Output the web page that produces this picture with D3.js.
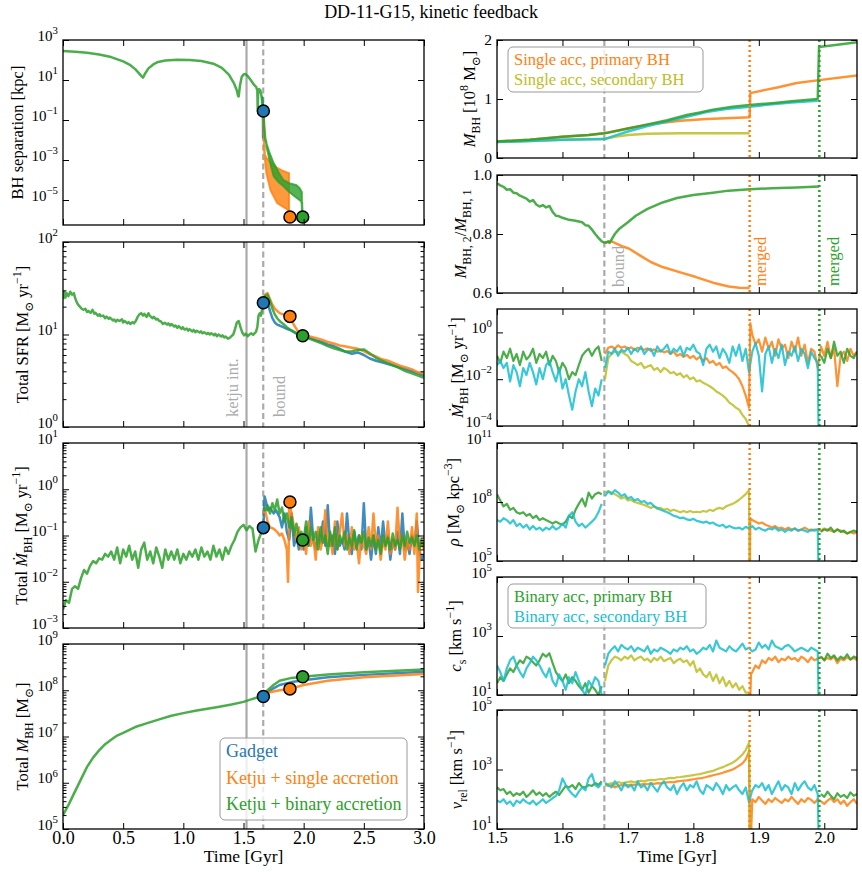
<!DOCTYPE html>
<html>
<head>
<meta charset="utf-8">
<script src="https://cdn.jsdelivr.net/npm/d3@7"></script>
<style>
  body { margin: 0; background: #fff; }
</style>
</head>
<body>
<svg id="fig" width="862" height="872"></svg>
<script>
// ---------- data ----------
const tKetju = 1.525, tBound = 1.664, tMergeSingle = 1.886, tMergeBinary = 1.9925;
const seq = (t0, dt, vals) => vals.map((v, i) => [+(t0 + i * dt).toFixed(4), v]);

// left column, panel 1: BH separation [kpc]
const sepPre = [[0,280],[0.1,260],[0.2,230],[0.3,190],[0.4,140],[0.5,85],[0.56,55],[0.6,35],[0.63,22],[0.65,16],[0.665,13],
  [0.68,20],[0.71,38],[0.75,60],[0.79,80],[0.85,95],[0.95,102],[1.05,100],[1.15,90],[1.25,65],[1.32,40],[1.38,18],[1.42,7],
  [1.445,3],[1.455,1.6],[1.46,1.5],[1.47,5],[1.485,14],[1.5,19],[1.515,20],[1.53,17],[1.56,10],[1.59,5.5],[1.605,4.5],
  [1.615,3],[1.618,0.3],[1.621,2],[1.63,3.5],[1.64,3],[1.65,1.5],[1.66,0.6],[1.665,0.28]];
const sepGadget = [[1.655,1.5],[1.66,0.5],[1.662,0.1],[1.663,0.012]];
const sepSingleLine = [[1.665,0.28],[1.67,0.02],[1.675,0.002]];
const sepSingleBand = [[1.675,0.002,0.0015],[1.69,1.3e-3,2.2e-4],[1.725,8e-4,3e-5],[1.78,4e-4,7e-6],[1.83,2.8e-4,4.5e-6],[1.878,2.2e-4,3e-6]];
const sepSingleEnd = [[1.878,3e-6],[1.883,1.4e-6]];
const sepBinaryLine = [[1.665,0.28],[1.672,0.05],[1.68,0.012],[1.69,0.007]];
const sepBinaryBand = [[1.69,0.007,0.005],[1.72,0.002,8e-4],[1.75,7e-4,1.6e-4],[1.79,2.5e-4,8e-5],[1.83,1e-4,5e-5],
  [1.88,7e-5,2.5e-5],[1.94,5.5e-5,1.3e-5],[1.965,4e-5,1e-5],[1.985,2.5e-5,8e-6]];
const sepBinaryEnd = [[1.985,8e-6],[1.99,1.4e-6]];

// panel 2: total SFR
const sfrPre = [[0,24],[0.01,29],[0.02,25],[0.03,28],[0.045,26],[0.06,29],[0.075,27],[0.09,28],[0.1,25],[0.11,23],[0.125,21],
  [0.14,20],[0.155,19],[0.17,18.5],[0.185,19],[0.2,17.5],[0.21,18],[0.23,17.2],[0.245,18.5],[0.26,16.8],[0.268,17.2],[0.29,16],
  [0.305,16.5],[0.312,15.8],[0.335,16],[0.35,15],[0.362,15.6],[0.38,14.8],[0.39,15.2],[0.415,14.2],[0.425,14.5],[0.44,13.8],
  [0.452,14.4],[0.47,14],[0.49,14.6],[0.5,13.5],[0.512,14],[0.535,13.2],[0.545,13.6],[0.56,13],[0.578,13.6],[0.59,13.2],
  [0.605,14],[0.62,15.5],[0.635,16.5],[0.65,17],[0.665,16],[0.675,16.7],[0.695,15.5],[0.71,17],[0.72,16],[0.745,15],
  [0.755,15.5],[0.775,14.5],[0.785,14.8],[0.8,14],[0.812,13.9],[0.83,13],[0.845,13.4],[0.865,12.8],[0.875,13.2],[0.89,12.5],
  [0.9,13],[0.925,12.2],[0.935,12.5],[0.95,11.8],[0.962,12.3],[0.985,11.5],[0.995,12],[1.01,11.3],[1.028,11.6],[1.04,11],
  [1.052,11.4],[1.075,10.8],[1.085,11.2],[1.1,10.6],[1.112,11],[1.135,10.5],[1.145,10.8],[1.16,10.3],[1.172,10.6],[1.195,10.1],
  [1.205,10.4],[1.22,10],[1.232,10.3],[1.255,9.8],[1.265,10.2],[1.28,9.6],[1.292,10],[1.315,9.5],[1.325,9.8],[1.34,9.3],
  [1.352,9.5],[1.37,9.0],[1.385,9.2],[1.4,9.6],[1.415,10],[1.43,11.5],[1.445,13.5],[1.46,14],[1.475,12],[1.49,10.5],
  [1.505,9.8],[1.52,10.2],[1.535,9.6],[1.55,10],[1.565,10.3],[1.58,9.9],[1.595,10.4],[1.605,10.8],[1.615,12],[1.625,16],
  [1.635,17],[1.645,16],[1.655,19],[1.665,22]];
const sfrGadget = [[1.665,22],[1.68,25],[1.69,24],[1.7,22],[1.72,18],[1.74,15],[1.76,13.5],[1.78,12.8],[1.8,12.5],[1.83,12],
  [1.86,11.5],[1.9,11],[1.95,10],[2.0,9.5],[2.05,9.2],[2.1,8.7],[2.15,8.3],[2.2,7.8],[2.25,7.5],[2.3,7.0],[2.35,6.5],[2.4,6.2],
  [2.45,6.4],[2.5,6.0],[2.55,5.5],[2.6,5.2],[2.65,5.0],[2.7,4.8],[2.75,4.6],[2.8,4.4],[2.85,4.2],[2.9,4.0],[2.95,3.8],[3.0,3.6]];
const sfrSingle = [[1.665,22],[1.68,27],[1.7,28],[1.72,24],[1.74,21],[1.76,19],[1.78,18],[1.8,17],[1.83,16.5],[1.86,16],
  [1.886,15.7],[1.9,14],[1.93,12],[1.96,10.5],[2.0,9.8],[2.05,9.5],[2.1,9.2],[2.15,8.8],[2.2,8.3],[2.25,8.0],[2.3,7.6],
  [2.35,7.4],[2.4,7.2],[2.45,7.0],[2.5,6.6],[2.55,6.1],[2.6,5.8],[2.65,5.4],[2.7,5.2],[2.75,4.9],[2.8,4.6],[2.85,4.4],
  [2.9,4.2],[2.95,3.9],[3.0,3.8]];
const sfrBinary = [[1.665,22],[1.68,26],[1.7,27],[1.72,23],[1.74,19],[1.76,16.5],[1.78,15],[1.8,14],[1.83,13],[1.86,12],
  [1.9,11],[1.95,10.2],[1.992,9.7],[2.05,9.0],[2.1,8.5],[2.15,8.0],[2.2,7.5],[2.25,7.1],[2.3,6.8],[2.35,6.5],[2.4,6.6],
  [2.45,6.8],[2.5,6.9],[2.53,6.5],[2.57,6.0],[2.6,5.6],[2.65,5.2],[2.7,4.9],[2.75,4.6],[2.8,4.3],[2.85,4.0],[2.9,3.8],
  [2.95,3.6],[3.0,3.4]];

// panel 3: total BH accretion rate
const mdotTotPre = seq(0, 0.025, [0.0025,0.004,0.0035,0.007,0.008,0.007,0.012,0.018,0.015,0.022,
  0.028,0.025,0.032,0.03,0.04,0.035,0.045,0.03,0.055,0.025,
  0.05,0.035,0.06,0.03,0.045,0.02,0.05,0.07,0.03,0.045,
  0.025,0.055,0.035,0.02,0.05,0.03,0.045,0.03,0.05,0.025,
  0.04,0.03,0.045,0.035,0.05,0.03,0.055,0.035,0.045,0.03,
  0.06,0.035,0.05,0.03,0.055,0.04,0.06,0.08,0.12,0.15,
  0.17,0.13,0.16,0.14,0.045,0.08,0.12]).concat([[1.665,0.145]]);
const mdotTotGadget = [[1.665,0.145],[1.675,0.7],[1.69,0.5],[1.7,0.35],[1.72,0.4],[1.75,0.3],[1.77,0.35],[1.8,0.25],[1.82,0.15],
  [1.84,0.3],[1.86,0.12],[1.88,0.08],[1.9,0.3],[1.92,0.06],[1.94,0.1],[1.96,0.05],[1.98,0.08],[2.0,0.05],[2.02,0.15],[2.04,0.06],
  [2.06,0.4],[2.08,0.08],[2.1,0.05],[2.12,0.12],[2.14,0.07],[2.16,0.2],[2.18,0.06],[2.2,0.45],[2.22,0.06],[2.24,0.1],[2.26,0.04],
  [2.28,0.2],[2.3,0.06],[2.32,0.08],[2.34,0.05],[2.36,0.3],[2.38,0.07],[2.4,0.04],[2.42,0.12],[2.44,0.06],[2.46,0.1],[2.48,0.05],
  [2.5,0.5],[2.52,0.05],[2.54,0.08],[2.56,0.03],[2.58,0.1],[2.6,0.04],[2.62,0.15],[2.64,0.05],[2.66,0.2],[2.68,0.06],[2.7,0.1],
  [2.72,0.03],[2.74,0.08],[2.76,0.05],[2.78,0.12],[2.8,0.04],[2.82,0.3],[2.84,0.05],[2.86,0.07],[2.88,0.04],[2.9,0.1],[2.92,0.06],
  [2.94,0.2],[2.96,0.05],[2.98,0.03],[3.0,0.04]];
const mdotTotSingle = [[1.665,0.3],[1.68,0.35],[1.7,0.2],[1.72,0.15],[1.75,0.14],[1.78,0.12],[1.8,0.1],[1.82,0.11],[1.84,0.08],
  [1.86,0.05],[1.87,0.01],[1.875,0.04],[1.88,0.5],[1.9,0.3],[1.92,0.15],[1.94,0.08],[1.96,0.15],[1.98,0.05],[2.0,0.1],[2.02,0.04],
  [2.04,0.2],[2.06,0.06],[2.08,0.1],[2.1,0.03],[2.12,0.15],[2.14,0.05],[2.16,0.08],[2.18,0.35],[2.2,0.06],[2.22,0.1],[2.24,0.04],
  [2.26,0.2],[2.28,0.05],[2.3,0.12],[2.32,0.3],[2.34,0.06],[2.36,0.1],[2.38,0.04],[2.4,0.15],[2.42,0.05],[2.44,0.08],[2.46,0.025],
  [2.48,0.1],[2.5,0.06],[2.52,0.04],[2.54,0.15],[2.56,0.05],[2.58,0.3],[2.6,0.06],[2.62,0.1],[2.64,0.03],[2.66,0.08],[2.68,0.05],
  [2.7,0.2],[2.72,0.04],[2.74,0.08],[2.76,0.05],[2.78,0.4],[2.8,0.06],[2.82,0.1],[2.84,0.03],[2.86,0.08],[2.88,0.05],[2.9,0.15],
  [2.92,0.04],[2.94,0.3],[2.95,0.006],[2.97,0.08],[3.0,0.05]];
const mdotTotBinary = [[1.665,0.4],[1.68,0.35],[1.7,0.45],[1.72,0.3],[1.74,0.5],[1.76,0.35],[1.78,0.6],[1.8,0.3],[1.82,0.4],
  [1.84,0.2],[1.86,0.3],[1.88,0.15],[1.9,0.25],[1.92,0.1],[1.94,0.18],[1.96,0.09],[1.98,0.12],[2.0,0.08],[2.02,0.2],[2.04,0.06],
  [2.06,0.15],[2.08,0.08],[2.1,0.12],[2.12,0.05],[2.14,0.15],[2.16,0.07],[2.18,0.1],[2.2,0.04],[2.22,0.12],[2.24,0.06],[2.26,0.15],
  [2.28,0.05],[2.3,0.1],[2.32,0.07],[2.34,0.12],[2.36,0.05],[2.38,0.09],[2.4,0.06],[2.42,0.13],[2.44,0.05],[2.46,0.1],[2.48,0.07],
  [2.5,0.12],[2.52,0.05],[2.54,0.09],[2.56,0.06],[2.58,0.1],[2.6,0.05],[2.62,0.08],[2.64,0.04],[2.66,0.1],[2.68,0.06],[2.7,0.09],
  [2.72,0.05],[2.74,0.11],[2.76,0.06],[2.78,0.08],[2.8,0.05],[2.82,0.1],[2.84,0.06],[2.86,0.12],[2.88,0.07],[2.9,0.09],[2.92,0.06],
  [2.94,0.1],[2.96,0.05],[2.98,0.08],[3.0,0.06]];

// panel 4: total BH mass
const mbhTotPre = [[0,2e5],[0.05,3.5e5],[0.1,6.5e5],[0.15,1.2e6],[0.2,2.2e6],[0.25,3.5e6],[0.3,5e6],[0.35,6.8e6],[0.4,8.5e6],
  [0.45,1.05e7],[0.5,1.2e7],[0.6,1.6e7],[0.7,1.95e7],[0.8,2.35e7],[0.9,2.8e7],[1.0,3.2e7],[1.1,3.6e7],[1.2,4.0e7],[1.3,4.4e7],
  [1.4,4.9e7],[1.5,5.6e7],[1.55,6.2e7],[1.6,6.8e7],[1.665,7.3e7]];
const mbhTotGadget = [[1.665,7.3e7],[1.7,9e7],[1.75,1.1e8],[1.8,1.3e8],[1.9,1.5e8],[2.0,1.65e8],[2.2,1.9e8],[2.5,2.15e8],[3.0,2.5e8]];
const mbhTotSingle = [[1.665,7.3e7],[1.7,8.8e7],[1.8,1.0e8],[1.886,1.07e8],[2.0,1.3e8],[2.2,1.6e8],[2.5,1.9e8],[3.0,2.25e8]];
const mbhTotBinary = [[1.665,7.3e7],[1.7,1.0e8],[1.75,1.3e8],[1.8,1.6e8],[1.9,1.85e8],[1.992,1.95e8],[2.2,2.2e8],[2.5,2.45e8],[3.0,2.8e8]];

// markers per run
const markGadget = { t: 1.665, sep: 0.28, sfr: 22, mdot: 0.148, mbh: 7.3e7 };
const markSingle = { t: 1.886, sep: 1.4e-6, sfr: 15.7, mdot: 0.53, mbh: 1.07e8 };
const markBinary = { t: 1.992, sep: 1.4e-6, sfr: 9.7, mdot: 0.08, mbh: 1.95e8 };

// right column, panel 1: individual BH masses [1e8 Msun]
const mPriBin = [[1.5,0.28],[1.55,0.31],[1.6,0.36],[1.64,0.39],[1.664,0.42],[1.67,0.43],[1.7,0.5],[1.73,0.57],[1.76,0.64],
  [1.79,0.73],[1.81,0.77],[1.83,0.82],[1.86,0.87],[1.886,0.9],[1.92,0.93],[1.95,0.96],[1.99,1.0],[1.992,1.88],[2.02,1.92],[2.05,1.96]];
const mPriSingle = [[1.5,0.28],[1.55,0.31],[1.6,0.36],[1.64,0.39],[1.664,0.42],[1.7,0.5],[1.74,0.58],[1.78,0.63],[1.82,0.66],
  [1.86,0.68],[1.886,0.69],[1.887,1.1],[1.908,1.15],[1.93,1.2],[1.958,1.27],[1.992,1.32],[2.05,1.4]];
const mSecSingle = [[1.5,0.27],[1.55,0.29],[1.6,0.31],[1.664,0.32],[1.68,0.36],[1.7,0.39],[1.73,0.41],[1.78,0.42],[1.886,0.42]];
const mSecBin = [[1.5,0.27],[1.55,0.29],[1.6,0.31],[1.664,0.32],[1.68,0.38],[1.7,0.45],[1.73,0.54],[1.76,0.62],[1.79,0.7],
  [1.82,0.78],[1.85,0.83],[1.886,0.87],[1.92,0.91],[1.95,0.94],[1.99,0.97]];

// panel 2: mass ratio
const qPre = [[1.5,0.972],[1.505,0.965],[1.51,0.96],[1.515,0.95],[1.52,0.952],[1.525,0.94],[1.53,0.938],[1.535,0.93],[1.54,0.925],
  [1.545,0.92],[1.55,0.91],[1.555,0.915],[1.56,0.9],[1.565,0.893],[1.57,0.898],[1.575,0.89],[1.58,0.895],[1.585,0.875],[1.59,0.862],
  [1.595,0.86],[1.6,0.855],[1.61,0.848],[1.62,0.845],[1.63,0.84],[1.635,0.83],[1.64,0.828],[1.645,0.815],[1.65,0.8],[1.655,0.787],
  [1.66,0.775],[1.665,0.77]];
const qBinary = [[1.665,0.77],[1.67,0.775],[1.672,0.77],[1.68,0.8],[1.687,0.818],[1.7,0.84],[1.712,0.862],[1.73,0.885],[1.753,0.907],
  [1.775,0.922],[1.8,0.932],[1.83,0.94],[1.854,0.947],[1.886,0.952],[1.92,0.955],[1.958,0.958],[1.992,0.961]];
const qSingle = [[1.665,0.77],[1.675,0.775],[1.69,0.76],[1.702,0.75],[1.72,0.725],[1.735,0.705],[1.753,0.688],[1.78,0.67],
  [1.804,0.654],[1.83,0.635],[1.854,0.622],[1.87,0.618],[1.886,0.617]];

// panel 3: accretion rates per BH
const mdPriPre = seq(1.5, 0.005, [0.1,0.05,0.15,0.08,0.2,0.06,0.12,0.04,0.15,0.07,0.1,0.2,0.05,0.12,0.08,0.15,0.04,0.1,0.06,0.02,
  0.05,0.03,0.01,0.02,0.015,0.04,0.1,0.15,0.2,0.1,0.18,0.25,0.06]);
const mdSecPre = seq(1.5, 0.005, [0.04,0.06,0.03,0.05,0.008,0.04,0.02,0.005,0.03,0.015,0.05,0.02,0.006,0.03,0.01,0.04,0.06,0.02,
  0.008,0.03,0.004,0.01,0.002,0.0005,0.003,0.01,0.005,0.02,0.003,0.0007,0.004,0.002,0.01]);
const mdSecBin = seq(1.665, 0.005, [0.03,0.15,0.12,0.2,0.1,0.18,0.15,0.22,0.12,0.2,0.15,0.25,0.12,0.18,0.2,0.1,0.25,0.15,0.2,0.3,
  0.12,0.2,0.15,0.25,0.1,0.22,0.18,0.3,0.15,0.12,0.04,0.2,0.3,0.15,0.25,0.08,0.2,0.12,0.05,0.25,
  0.1,0.3,0.06,0.2,0.02,0.15,0.35,0.1,0.003,0.12,0.25,0.05,0.2,0.08,0.3,0.04,0.15,0.1,0.25,0.06,
  0.2,0.12,0.03,0.15,0.08,0.05]).concat([[1.992,1e-6]]);
const mdPriSingle = seq(1.665, 0.005, [0.12,0.22,0.25,0.2,0.28,0.22,0.25,0.2,0.23,0.18,0.22,0.2,0.18,0.21,0.16,0.19,0.15,0.17,0.14,
  0.16,0.12,0.15,0.1,0.12,0.09,0.11,0.08,0.1,0.07,0.09,0.06,0.08,0.05,0.06,0.04,0.05,0.03,0.035,0.025,0.02,0.015,0.01,0.005,
  0.002,0.0006]).concat([[1.887,2.5]], seq(1.89, 0.005, [0.8,0.3,0.5,0.15,0.6,0.2,0.4,0.1,0.5,0.2,0.3,0.08,0.4,0.15,0.6,0.1,
  0.3,0.05,0.2,0.15,0.03,0.25,0.1,0.4,0.08,0.2,0.005,0.1,0.15,0.06,0.2,0.1,0.15]));
const mdSecSingle = seq(1.665, 0.005, [0.01,0.08,0.12,0.15,0.14,0.15,0.12,0.1,0.06,0.05,0.04,0.05,0.03,0.035,0.04,0.025,0.03,0.02,
  0.03,0.025,0.018,0.02,0.015,0.018,0.012,0.015,0.01,0.012,0.008,0.009,0.007,0.006,0.005,0.004,0.003,0.0025,0.002,0.0015,0.001,
  0.0008,0.0006,0.0005,0.0003,0.0002,0.0001]);
const mdPriBinPost = seq(1.995, 0.005, [0.1,0.05,0.2,0.08,0.4,0.1,0.15,0.05,0.2,0.1,0.08,0.15]);

// panel 4: gas density around BHs
const rhoPriPre = seq(1.5, 0.005, [2.5e8,1.2e8,6e7,8e7,4e7,5e7,3e7,2.5e7,3e7,2e7,2.5e7,1.5e7,2e7,1.2e7,1.5e7,1.2e7,1e7,8e6,1e7,
  8e6,7e6,1e7,2e7,1.5e7,4e7,8e7,1.5e8,6e7,3e8,1.5e8,2.5e8,3e8,2.5e8]);
const rhoSecPre = seq(1.5, 0.005, [1.2e7,1e7,1.5e7,1.2e7,8e6,1.2e7,6e6,8e6,5e6,7e6,4e6,6e6,4e6,5e6,3.5e6,5e6,4e6,6e6,4e6,5e6,
  8e6,5e6,2e7,3e7,1e7,6e6,8e6,5e6,7e6,1e7,1.5e7,3e7,8e7]);
const rhoSecBin = seq(1.665, 0.005, [2e8,3.5e8,2.5e8,4e8,3e8,2e8,2.5e8,1.5e8,1.8e8,1.2e8,1.4e8,1e8,1.1e8,8e7,9e7,6e7,5e7,4e7,3.5e7,
  3e7,2.5e7,2e7,1.8e7,1.5e7,1.6e7,1.3e7,1.2e7,1.4e7,1.1e7,1e7,9e6,1e7,8e6,9e6,7e6,6e6,7e6,5e6,6e6,5e6,4.5e6,5e6,4e6,5.5e6,
  4.5e6,6e6,4e6,5e6,4e6,3.5e6,4.5e6,4e6,5e6,3.5e6,4e6,3e6,4e6,3.5e6,4.5e6,3.5e6,4e6,3.5e6,3e6,4e6,3.5e6,4e6]).concat([[1.992,1e3]]);
const rhoSecSingle = seq(1.665, 0.005, [3e8,3.5e8,3e8,2.5e8,2e8,1.5e8,1.8e8,1.2e8,1.3e8,1e8,9e7,8e7,7e7,6e7,5e7,6e7,4.5e7,5e7,
  4e7,4.5e7,3.5e7,4e7,3.5e7,3e7,3.5e7,3e7,3.5e7,3e7,3.2e7,3e7,3.5e7,3.2e7,4e7,3.5e7,4.5e7,5e7,4.5e7,6e7,7e7,8e7,1e8,1.3e8,
  1.8e8,2.5e8,4e8]).concat([[1.886,1e3]]);
const rhoPriSingle = [[1.886,1e3],[1.887,1.5e7]].concat(seq(1.89, 0.005, [1.2e7,1e7,8e6,9e6,7e6,6e6,5e6,6e6,4.5e6,5e6,4e6,
  5e6,4e6,4.5e6,3.5e6,4e6,5e6,4e6,3.5e6,4e6,4e6,3.5e6,4.5e6,4e6,3.5e6,3e6,4e6,3.5e6,3e6,2.5e6,3e6,2.5e6,3e6]));
const rhoPriBinPost = seq(1.995, 0.005, [3e6,4e6,3.5e6,5e6,3e6,4e6,3e6,3.5e6,2.5e6,3e6,3.5e6,3e6]);

// panel 5: sound speed
const csPriPre = seq(1.5, 0.005, [25,40,30,50,80,60,100,150,120,200,170,130,100,150,250,200,260,120,60,40,30,50,25,40,30,20,
  15,25,12,20,15,10,20]);
const csSecPre = seq(1.5, 0.005, [100,60,30,80,150,200,100,60,40,80,120,200,150,100,60,40,80,30,20,50,30,15,40,25,60,30,15,
  10,30,20,40,30,10]);
const csSecBin = seq(1.665, 0.005, [100,250,350,450,300,500,400,350,450,300,400,350,300,450,250,350,300,400,350,300,250,350,
  300,400,350,450,300,350,250,300,400,350,500,300,700,400,350,300,450,350,300,400,550,350,400,300,350,600,400,500,350,700,
  450,400,350,450,500,400,300,350,400,350,300,400,350,300]).concat([[1.992,1]]);
const csSecSingle = seq(1.665, 0.005, [30,100,150,200,180,150,200,170,220,150,180,200,150,170,130,180,150,200,140,160,180,120,
  150,170,130,150,100,140,60,80,50,40,60,30,50,25,40,20,30,18,25,15,20,12,12]).concat([[1.886,1]]);
const csPriSingle = [[1.886,1],[1.888,50]].concat(seq(1.89, 0.005, [60,100,80,150,120,180,150,200,130,170,150,200,160,180,140,
  200,170,130,190,150,170,200,150,180,160,200,120,170,150,190,160,180,150]));
const csPriBinPost = seq(1.995, 0.005, [200,150,250,180,220,150,200,170,240,160,200,180]);

// panel 6: relative velocity
const vPriPre = seq(1.5, 0.005, [250,200,220,150,180,130,160,140,180,120,150,200,140,170,130,160,120,150,180,140,200,280,250,
  300,220,350,260,250,300,280,350,300,400]);
const vSecPre = seq(1.5, 0.005, [90,80,100,70,85,60,90,75,100,80,70,90,65,80,100,75,90,110,130,200,500,300,200,150,120,180,250,
  200,500,700,300,250,350]);
const vSecBin = seq(1.665, 0.005, [350,300,250,400,300,200,350,250,300,200,400,250,300,200,350,250,180,300,400,250,200,300,150,
  250,350,200,300,250,400,200,150,300,250,200,350,250,150,300,200,250,300,200,150,250,80,200,300,250,350,200,300,150,250,400,
  200,300,250,150,350,200,300,400,250,200,300,150]).concat([[1.992,1]]);
const vSecSingle = seq(1.665, 0.005, [300,320,350,300,380,350,360,380,400,370,400,420,400,430,450,440,460,480,470,500,520,510,
  550,560,580,600,620,650,680,700,750,800,850,900,1000,1100,1200,1350,1500,1700,2000,2500,3200,4500,8000]).concat([[1.886,1]]);
const vPriSingle = seq(1.665, 0.005, [300,280,300,250,280,300,290,300,310,300,320,310,330,320,340,330,350,340,360,370,380,370,
  400,410,420,430,450,470,490,500,530,560,600,640,680,720,780,850,920,1000,1150,1350,1600,2200,4000])
  .concat([[1.887,1]], seq(1.89, 0.005, [100,80,120,90,70,100,80,110,90,75,100,85,120,90,70,100,80,110,95,75,100,85,70,90,110,
  80,100,70,90,60,80,100,70]));
const vPriBinPost = seq(1.995, 0.005, [150,120,180,130,100,160,120,140,110,170,130,150]);

// ---------- drawing ----------
const FONT = '"Liberation Serif", "Times New Roman", "DejaVu Serif", serif';
const col = { blue: "#1f77b4", orange: "#ff7f0e", green: "#2ca02c", olive: "#bcbd22", cyan: "#17becf", gray: "#aaaaaa" };

const svg = d3.select("#fig").attr("font-family", FONT);
svg.append("rect").attr("width", 862).attr("height", 872).attr("fill", "#fff");
const defs = svg.append("defs");
let clipN = 0;

// text with sub/superscripts; parts = [[text, mode]]
function rich(sel, parts, size) {
  let off = 0;
  parts.forEach(([s, m]) => {
    const target = m === "sub" ? size * 0.28 : m === "sup" ? -size * 0.42 : 0;
    const ts = sel.append("tspan").text(s).attr("dy", target - off);
    if (m === "sub" || m === "sup") ts.attr("font-size", size * 0.72);
    if (m === "i") ts.attr("font-style", "italic");
    off = target;
  });
}

function panel(o) {
  const x = d3.scaleLinear().domain(o.xd).range([o.l, o.r]);
  const y = (o.log ? d3.scaleLog() : d3.scaleLinear()).domain(o.yd).range([o.b, o.t]);
  const id = "clip" + clipN++;
  defs.append("clipPath").attr("id", id).append("rect")
    .attr("x", o.l).attr("y", o.t).attr("width", o.r - o.l).attr("height", o.b - o.t);
  const plot = svg.append("g").attr("clip-path", `url(#${id})`);
  return Object.assign({}, o, { x, y, plot });
}

function finishAxes(p) {
  const g = svg.append("g").attr("font-family", FONT);
  const ax = (gen, tx, ty, fs) => g.append("g").attr("transform", `translate(${tx},${ty})`).call(gen)
    .attr("font-size", fs || 16).attr("font-family", null);
  ax(d3.axisBottom(p.x).tickValues(p.xt).tickSize(-6).tickPadding(2)
    .tickFormat(p.xlab ? d3.format(".1f") : () => ""), 0, p.b, p.xfs);
  ax(d3.axisTop(p.x).tickValues(p.xt).tickSize(-6).tickFormat(() => ""), 0, p.t);
  const left = ax(d3.axisLeft(p.y).tickValues(p.yt).tickSize(-6).tickPadding(5)
    .tickFormat(p.log ? () => "" : d3.format(p.yfmt)), p.l, 0, 15.5);
  ax(d3.axisRight(p.y).tickValues(p.yt).tickSize(-6).tickFormat(() => ""), p.r, 0);
  if (p.log) {
    left.attr("font-size", 15);
    left.selectAll(".tick text").each(function (d) {
      const e = Math.round(Math.log10(d));
      const t = d3.select(this).text(null);
      rich(t, [["10", ""], [String(e).replace("-", "\u2212"), "sup"]], 15);
    });
  }
  if (p.minor) {
    const lo = Math.round(Math.log10(p.yd[0])), hi = Math.round(Math.log10(p.yd[1]));
    const mv = [];
    for (let e = lo; e < hi; e++) for (let k = 2; k <= 9; k++) mv.push(k * Math.pow(10, e));
    ax(d3.axisLeft(p.y).tickValues(mv).tickSize(-3.5).tickFormat(() => ""), p.l, 0);
    ax(d3.axisRight(p.y).tickValues(mv).tickSize(-3.5).tickFormat(() => ""), p.r, 0);
  }
  g.selectAll(".domain").remove();
  g.selectAll(".tick line").attr("stroke", "#000").attr("stroke-width", 1);
  g.selectAll(".tick text").attr("fill", "#000");
  g.append("rect").attr("x", p.l).attr("y", p.t).attr("width", p.r - p.l).attr("height", p.b - p.t)
    .attr("fill", "none").attr("stroke", "#000").attr("stroke-width", 1.3);
  // y label
  const cy = (p.t + p.b) / 2;
  const lab = g.append("text").attr("transform", `translate(${p.lx},${cy}) rotate(-90)`)
    .attr("text-anchor", "middle").attr("font-size", 16.5).attr("fill", "#000");
  rich(lab, p.ylabel, 16.5);
  if (p.xlab) {
    g.append("text").attr("x", (p.l + p.r) / 2).attr("y", p.b + 33).attr("text-anchor", "middle")
      .attr("font-size", 17.5).attr("fill", "#000").text("Time [Gyr]");
  }
}

function line(p, data, color, w = 2.5, op = 0.85) {
  p.plot.append("path").datum(data)
    .attr("d", d3.line().x(d => p.x(d[0])).y(d => p.y(d[1])))
    .attr("fill", "none").attr("stroke", color).attr("stroke-width", w)
    .attr("stroke-linejoin", "round").attr("stroke-opacity", op);
}
function band(p, data, color, op = 0.8) {
  p.plot.append("path").datum(data)
    .attr("d", d3.area().x(d => p.x(d[0])).y0(d => p.y(d[2])).y1(d => p.y(d[1])))
    .attr("fill", color).attr("fill-opacity", op).attr("stroke", color).attr("stroke-width", 2).attr("stroke-opacity", op);
}
function vline(p, t, color, dash, w = 2.2) {
  p.plot.append("line").attr("x1", p.x(t)).attr("x2", p.x(t)).attr("y1", p.t).attr("y2", p.b)
    .attr("stroke", color).attr("stroke-width", w).attr("stroke-dasharray", dash);
}
function marker(p, t, v, color) {
  svg.append("circle").attr("cx", p.x(t)).attr("cy", p.y(v)).attr("r", 6)
    .attr("fill", color).attr("stroke", "#000").attr("stroke-width", 1.5);
}
function vtext(x, y, s, color) {
  svg.append("text").attr("transform", `translate(${x},${y}) rotate(-90)`)
    .attr("font-size", 16.5).attr("fill", color).text(s);
}
function legend(x, y, w, h, items, size, gap) {
  svg.append("rect").attr("x", x).attr("y", y).attr("width", w).attr("height", h).attr("rx", 5)
    .attr("fill", "#fff").attr("fill-opacity", 0.8).attr("stroke", "#999").attr("stroke-width", 1);
  items.forEach(([s, c], i) => svg.append("text").attr("x", x + 6).attr("y", y + size + 1 + i * gap)
    .attr("font-size", size).attr("fill", c).text(s));
}

// title
svg.append("text").attr("x", 431).attr("y", 18).attr("text-anchor", "middle").attr("font-size", 18)
  .text("DD-11-G15, kinetic feedback");

const LX = { l: 63, r: 424, xd: [0, 3], xt: [0, 0.5, 1, 1.5, 2, 2.5, 3], xfs: 18 };
const RX = { l: 497, r: 857, xd: [1.5, 2.05], xt: [1.5, 1.6, 1.7, 1.8, 1.9, 2.0], xfs: 16.5 };
const Msun = [["M", ""], ["\u2299", "sub"]];

// ---- left column ----
const L1 = panel({ ...LX, t: 40, b: 225, log: true, yd: [Math.pow(10, -6.25), 1e3], yt: [1e3, 1e1, 1e-1, 1e-3, 1e-5],
  lx: 23, ylabel: [["BH separation [kpc]", ""]] });
const L2 = panel({ ...LX, t: 242, b: 427, log: true, yd: [1, 100], yt: [1, 10, 100], minor: true,
  lx: 28, ylabel: [["Total SFR [", ""], ...Msun, [" yr", ""], ["\u22121", "sup"], ["]", ""]] });
const L3 = panel({ ...LX, t: 443, b: 628, log: true, yd: [1e-3, 10], yt: [1e-3, 1e-2, 1e-1, 1, 10], minor: true,
  lx: 27, ylabel: [["Total ", ""], ["\u1E40", "i"], ["BH", "sub"], [" [", ""], ...Msun, [" yr", ""], ["\u22121", "sup"], ["]", ""]] });
const L4 = panel({ ...LX, t: 644, b: 829, log: true, yd: [1e5, 1e9], yt: [1e5, 1e6, 1e7, 1e8, 1e9], minor: true, xlab: true,
  lx: 28, ylabel: [["Total ", ""], ["M", "i"], ["BH", "sub"], [" [", ""], ...Msun, ["]", ""]] });

[L1, L2, L3, L4].forEach(p => { vline(p, tKetju, col.gray, null, 2.2); vline(p, tBound, col.gray, "6,3.5", 2.2); });

line(L1, sepGadget, col.blue);
line(L1, sepSingleLine, col.orange);
band(L1, sepSingleBand, col.orange);
line(L1, sepSingleEnd, col.orange);
line(L1, sepPre, col.green);
line(L1, sepBinaryLine, col.green);
band(L1, sepBinaryBand, col.green);
line(L1, sepBinaryEnd, col.green);

line(L2, sfrGadget, col.blue);
line(L2, sfrSingle, col.orange);
line(L2, sfrBinary, col.green);
line(L2, sfrPre, col.green);

line(L3, mdotTotGadget, col.blue);
line(L3, mdotTotSingle, col.orange);
line(L3, mdotTotBinary, col.green);
line(L3, mdotTotPre, col.green);

line(L4, mbhTotGadget, col.blue);
line(L4, mbhTotSingle, col.orange);
line(L4, mbhTotBinary, col.green);
line(L4, mbhTotPre, col.green);

vtext(238, 417, "ketju int.", col.gray);
vtext(285, 417, "bound", col.gray);

[[L1, "sep"], [L2, "sfr"], [L3, "mdot"], [L4, "mbh"]].forEach(([p, k]) => {
  marker(p, markGadget.t, markGadget[k], col.blue);
  marker(p, markSingle.t, markSingle[k], col.orange);
  marker(p, markBinary.t, markBinary[k], col.green);
});
[L1, L2, L3, L4].forEach(finishAxes);
legend(220, 738, 187, 82, [["Gadget", col.blue], ["Ketju + single accretion", col.orange], ["Ketju + binary accretion", col.green]], 18, 26.5);

// ---- right column ----
const R1 = panel({ ...RX, t: 40, b: 158, yd: [0, 2], yt: [0, 1, 2], yfmt: "d",
  lx: 475, ylabel: [["M", "i"], ["BH", "sub"], [" [10", ""], ["8", "sup"], [" ", ""], ...Msun, ["]", ""]] });
const R2 = panel({ ...RX, t: 175, b: 293, yd: [0.6, 1.0], yt: [0.6, 0.8, 1.0], yfmt: ".1f",
  lx: 466, ylabel: [["M", "i"], ["BH, 2", "sub"], ["/", ""], ["M", "i"], ["BH, 1", "sub"]] });
const R3 = panel({ ...RX, t: 309, b: 426, log: true, yd: [1e-4, 10], yt: [1e-4, 1e-2, 1],
  lx: 463, ylabel: [["\u1E40", "i"], ["BH", "sub"], [" [", ""], ...Msun, [" yr", ""], ["\u22121", "sup"], ["]", ""]] });
const R4 = panel({ ...RX, t: 443, b: 561, log: true, yd: [1e5, 1e11], yt: [1e5, 1e8, 1e11],
  lx: 459, ylabel: [["\u03C1", "i"], [" [", ""], ...Msun, [" kpc", ""], ["\u22123", "sup"], ["]", ""]] });
const R5 = panel({ ...RX, t: 577, b: 695, log: true, yd: [10, 1e5], yt: [10, 1e3, 1e5],
  lx: 461, ylabel: [["c", "i"], ["s", "sub"], [" [km s", ""], ["\u22121", "sup"], ["]", ""]] });
const R6 = panel({ ...RX, t: 710, b: 829, log: true, yd: [10, 1e5], yt: [10, 1e3, 1e5], xlab: true,
  lx: 462, ylabel: [["v", "i"], ["rel", "sub"], [" [km s", ""], ["\u22121", "sup"], ["]", ""]] });

[R1, R2, R3, R4, R5, R6].forEach(p => vline(p, tBound, col.gray, "6,3.5", 2.2));

line(R1, mPriSingle, col.orange);
line(R1, mSecSingle, col.olive);
line(R1, mSecBin, col.cyan);
line(R1, mPriBin, col.green);

line(R2, qSingle, col.orange);
line(R2, qBinary, col.green);
line(R2, qPre, col.green);

const noisy = [
  [R3, mdPriSingle, mdSecSingle, mdPriPre, mdPriBinPost, mdSecPre, mdSecBin],
  [R4, rhoPriSingle, rhoSecSingle, rhoPriPre, rhoPriBinPost, rhoSecPre, rhoSecBin],
  [R5, csPriSingle, csSecSingle, csPriPre, csPriBinPost, csSecPre, csSecBin],
  [R6, vPriSingle, vSecSingle, vPriPre, vPriBinPost, vSecPre, vSecBin]
];
noisy.forEach(([p, priS, secS, priPre, priPost, secPre, secB]) => {
  line(p, priS, col.orange, 2.2);
  line(p, secS, col.olive, 2.2);
  line(p, priPre, col.green, 2.2);
  line(p, priPost, col.green, 2.2);
  line(p, secPre, col.cyan, 2.2);
  line(p, secB, col.cyan, 2.2);
});

[R1, R2, R3, R4, R5, R6].forEach(p => {
  vline(p, tMergeSingle, col.orange, "2,3", 2.5);
  vline(p, tMergeBinary, col.green, "2,3", 2.5);
});
[R1, R2, R3, R4, R5, R6].forEach(finishAxes);

vtext(624, 287, "bound", col.gray);
vtext(766, 286, "merged", col.orange);
vtext(839, 286, "merged", col.green);

legend(508, 47, 195, 45, [["Single acc, primary BH", col.orange], ["Single acc, secondary BH", col.olive]], 16.5, 20);
legend(508, 584, 198, 44, [["Binary acc, primary BH", col.green], ["Binary acc, secondary BH", col.cyan]], 16.5, 20);
</script>
</body>
</html>
